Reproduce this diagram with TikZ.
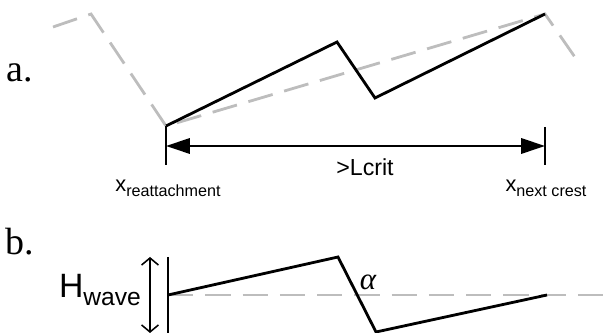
\documentclass[tikz,border=0pt]{standalone}
\usepackage{fontspec}
\setmainfont{Liberation Serif}
\setsansfont{Liberation Sans}
\usetikzlibrary{arrows.meta}
\definecolor{meangray}{gray}{0.74}

\begin{document}
\begin{tikzpicture}[
    x=0.025cm, y=-0.025cm,
    profile/.style={line width=2pt, line join=miter},
    mean/.style={line width=2pt, meangray, dash pattern=on 18pt off 8.5pt},
    tickbar/.style={line width=1.5pt},
    span/.style={{Triangle[length=17pt,width=11pt]}-{Triangle[length=17pt,width=11pt]}, line width=1.3pt},
    waveheight/.style={{Straight Barb[length=5pt,width=12pt]}-{Straight Barb[length=5pt,width=12pt]}, line width=1.1pt},
    panel/.style={font=\fontsize{27}{30}\selectfont},
    xlabel/.style={font=\sffamily\fontsize{15.5}{18}\selectfont},
    every node/.style={inner sep=0pt}
]
\useasboundingbox (0,0) rectangle (613,333);

% Panel a
\node[panel] (pa) at (20,73) {a.};
\coordinate (a0) at (53,27);
\coordinate (a1) at (91,14);
\coordinate (reat) at (166,126);
\coordinate (c1) at (337,42);
\coordinate (t1) at (375,98);
\coordinate (crest) at (545,14);
\coordinate (a2) at (579,63);

\draw[mean] (a0) -- (a1) -- (reat) -- (crest) -- (a2);
\draw[profile] (reat) -- (c1) -- (t1) -- (crest);

\coordinate (lt) at (166,165);
\coordinate (rt0) at (545,127);
\coordinate (rt) at (545,165);
\draw[tickbar] (reat) -- (lt);
\draw[tickbar] (rt0) -- (rt);
\draw[span] (166,146) coordinate (sl) -- (545,146) coordinate (sr);

\node[xlabel, font=\sffamily\fontsize{16.5}{18}\selectfont] (lcrit) at (365,167) {>Lcrit};
\node[xlabel] (xr) at (168,188) {x\raisebox{-0.45ex}{\fontsize{11.5}{13}\selectfont reattachment}};
\node[xlabel] (xn) at (546,188) {x\raisebox{-0.45ex}{\fontsize{11.5}{13}\selectfont next crest}};

% Panel b
\node[panel] (pb) at (20,242) {b.};
\coordinate (b0) at (168,295);
\coordinate (bc) at (338,257);
\coordinate (bt) at (376,332);
\coordinate (b1) at (547,295);
\coordinate (bend) at (613,295);

\draw[mean] (b0) -- (bend);
\draw[profile] (b0) -- (bc) -- (bt) -- (b1);

\coordinate (bartop) at (168,257);
\coordinate (barbot) at (168,333);
\draw[line width=2.1pt] (bartop) -- (barbot);
\coordinate (htop) at (150,257);
\coordinate (hbot) at (150,333);
\draw[waveheight] (htop) -- (hbot);

\node[font=\sffamily\fontsize{24}{28}\selectfont] (hw) at (100,290) {H\raisebox{-0.4ex}{\fontsize{17.5}{20}\selectfont wave}};
\node[font=\itshape\fontsize{22}{24}\selectfont] (alpha) at (368,282) {α};

\end{tikzpicture}
\end{document}
